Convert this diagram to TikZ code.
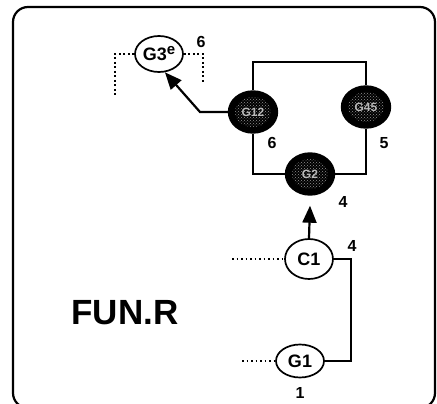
\documentclass[tikz,border=0pt]{standalone}
\usepackage{fontspec}
\setmainfont{Liberation Sans}
\usetikzlibrary{shapes.geometric,arrows.meta,patterns}
\begin{document}
\begin{tikzpicture}[x=1pt,y=-1pt,
  nd/.style={ellipse,draw,line width=1.7pt,minimum width=48pt,minimum height=37pt,inner sep=0pt,font=\fontsize{18}{20}\selectfont\bfseries},
  dk/.style={nd,line width=2.4pt,minimum height=41pt,fill=black,
    path picture={\fill[pattern=crosshatch dots,pattern color=gray!85] (path picture bounding box.center) ellipse (18pt and 15pt);},
    font=\fontsize{12}{13}\selectfont\bfseries,text=gray!55},
  lbl/.style={font=\fontsize{16}{18}\selectfont\bfseries,inner sep=0pt},
  wire/.style={line width=1.7pt},
  dotline/.style={line width=1.6pt,dash pattern=on 1.7pt off 2.8pt},
  arr/.style={line width=2.2pt,-{Triangle[length=17pt,width=14pt]}}
]
\useasboundingbox (0,0) rectangle (437,404);
\begin{scope}
  \clip (0,0) rectangle (437,404);
  \draw[line width=2.2pt,rounded corners=15pt] (13,7) rectangle (435,408);
\end{scope}
% nodes
\node[nd,minimum height=36pt] (G3) at (159,54) {G3\raisebox{6pt}{\fontsize{15}{15}\selectfont e}};
\node[dk] (G12) at (253,112) {G12};
\node[dk] (G45) at (366,107) {G45};
\node[dk] (G2) at (310,174) {G2};
\node[nd,minimum height=40pt] (C1) at (309,259) {C1};
\node[nd,minimum height=33pt] (G1) at (300,361) {G1};
% helper coordinates
\coordinate (T) at (0,62);
\coordinate (K) at (200,0);
\coordinate (R) at (351,0);
\coordinate (DC) at (232,0);
\coordinate (DG) at (242,0);
\coordinate (L) at (115,97);
\coordinate (RR) at (203,84);
% wires
\draw[wire] (G12.north) -- (G12.north |- T) -- (G45.north |- T) -- (G45.north);
\draw[wire] (G12.south) |- (G2.west);
\draw[wire] (G45.south) |- (G2.east);
\draw[arr] (C1.north) -- ([yshift=-10pt]G2.south);
\draw[wire] (C1.east) -- (C1.east -| R) -- (G1.east -| R) -- (G1.east);
\draw[arr] (G12.west) -- (G12.west -| K) -- (G3.-72);
% dotted
\draw[dotline] (C1.west -| DC) -- (C1.west);
\draw[dotline] (G1.west -| DG) -- (G1.west);
\draw[dotline] (G3.west) -- (G3.west -| L) -- (L);
\draw[dotline] (G3.east) -- (G3.east -| RR) -- (RR);
% labels
\node[lbl] (l6a) at (201,42) {6};
\node[lbl] (l6b) at (272,143) {6};
\node[lbl] (l5) at (384,143) {5};
\node[lbl] (l4a) at (343,202) {4};
\node[lbl] (l4b) at (352,246) {4};
\node[lbl] (l1) at (300,393) {1};
\node[font=\fontsize{35}{38}\selectfont\bfseries] (fun) at (125,313) {FUN.R};
\end{tikzpicture}
\end{document}
